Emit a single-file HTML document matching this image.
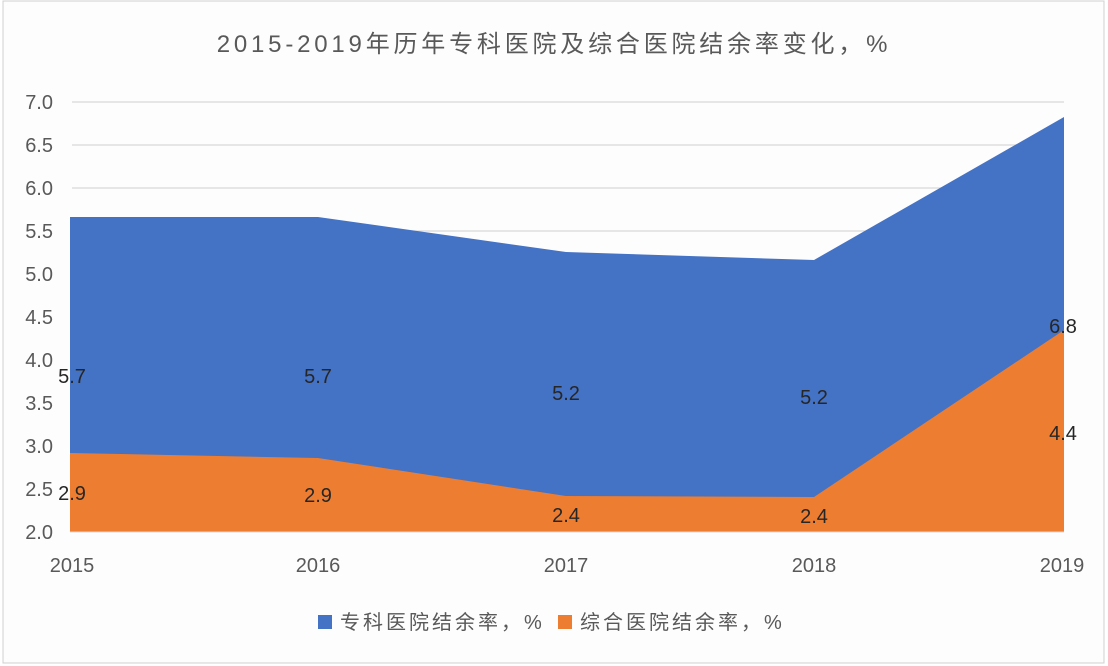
<!DOCTYPE html>
<html><head><meta charset="utf-8"><style>
body{margin:0;background:#fff;}
svg{display:block;font-family:"Liberation Sans","Noto Sans CJK SC",sans-serif;}
</style></head><body>
<svg width="1108" height="666" viewBox="0 0 1108 666">
<rect x="3" y="1" width="1101" height="662" fill="#fdfdfd" stroke="#d0d0d0"/>
<text x="554" y="52" text-anchor="middle" font-size="24" letter-spacing="3.8" fill="#595959">2015-2019年历年专科医院及综合医院结余率变化，%</text>
<g stroke="#d9d9d9" stroke-width="1.2">
<line x1="72" x2="1064" y1="102" y2="102"/><line x1="72" x2="1064" y1="145" y2="145"/>
<line x1="72" x2="1064" y1="188" y2="188"/><line x1="72" x2="1064" y1="231" y2="231"/>
<line x1="72" x2="1064" y1="274" y2="274"/><line x1="72" x2="1064" y1="317" y2="317"/>
<line x1="72" x2="1064" y1="360" y2="360"/><line x1="72" x2="1064" y1="403" y2="403"/>
<line x1="72" x2="1064" y1="446" y2="446"/><line x1="72" x2="1064" y1="489" y2="489"/>
</g>
<polygon fill="#4472c4" points="70,217 318,217 566,252 814,260 1064,117 1064,532 70,532"/>
<polygon fill="#ed7d31" points="70,453 318,458 566,496 814,497 1064,330 1064,532 70,532"/>
<line x1="70" x2="1064" y1="532" y2="532" stroke="#d9d9d9"/>
<g font-size="20" fill="#595959" text-anchor="end">
<text x="53" y="109">7.0</text><text x="53" y="152">6.5</text><text x="53" y="195">6.0</text>
<text x="53" y="238">5.5</text><text x="53" y="281">5.0</text><text x="53" y="324">4.5</text>
<text x="53" y="367">4.0</text><text x="53" y="410">3.5</text><text x="53" y="453">3.0</text>
<text x="53" y="496">2.5</text><text x="53" y="539">2.0</text>
</g>
<g font-size="20" fill="#595959" text-anchor="middle">
<text x="72" y="572">2015</text><text x="318" y="572">2016</text><text x="566" y="572">2017</text>
<text x="814" y="572">2018</text><text x="1062" y="572">2019</text>
</g>
<g font-size="20" fill="#262626" text-anchor="middle">
<text x="72" y="383">5.7</text><text x="318" y="383">5.7</text><text x="566" y="400">5.2</text>
<text x="814" y="404">5.2</text><text x="1063" y="333">6.8</text>
<text x="72" y="500">2.9</text><text x="318" y="502">2.9</text><text x="566" y="522">2.4</text>
<text x="814" y="523">2.4</text><text x="1063" y="440">4.4</text>
</g>
<rect x="318" y="615" width="14" height="14" fill="#4472c4"/>
<text x="340" y="629" font-size="20" letter-spacing="3" fill="#595959">专科医院结余率，%</text>
<rect x="558" y="615" width="14" height="14" fill="#ed7d31"/>
<text x="580" y="629" font-size="20" letter-spacing="3" fill="#595959">综合医院结余率，%</text>
</svg>
</body></html>
